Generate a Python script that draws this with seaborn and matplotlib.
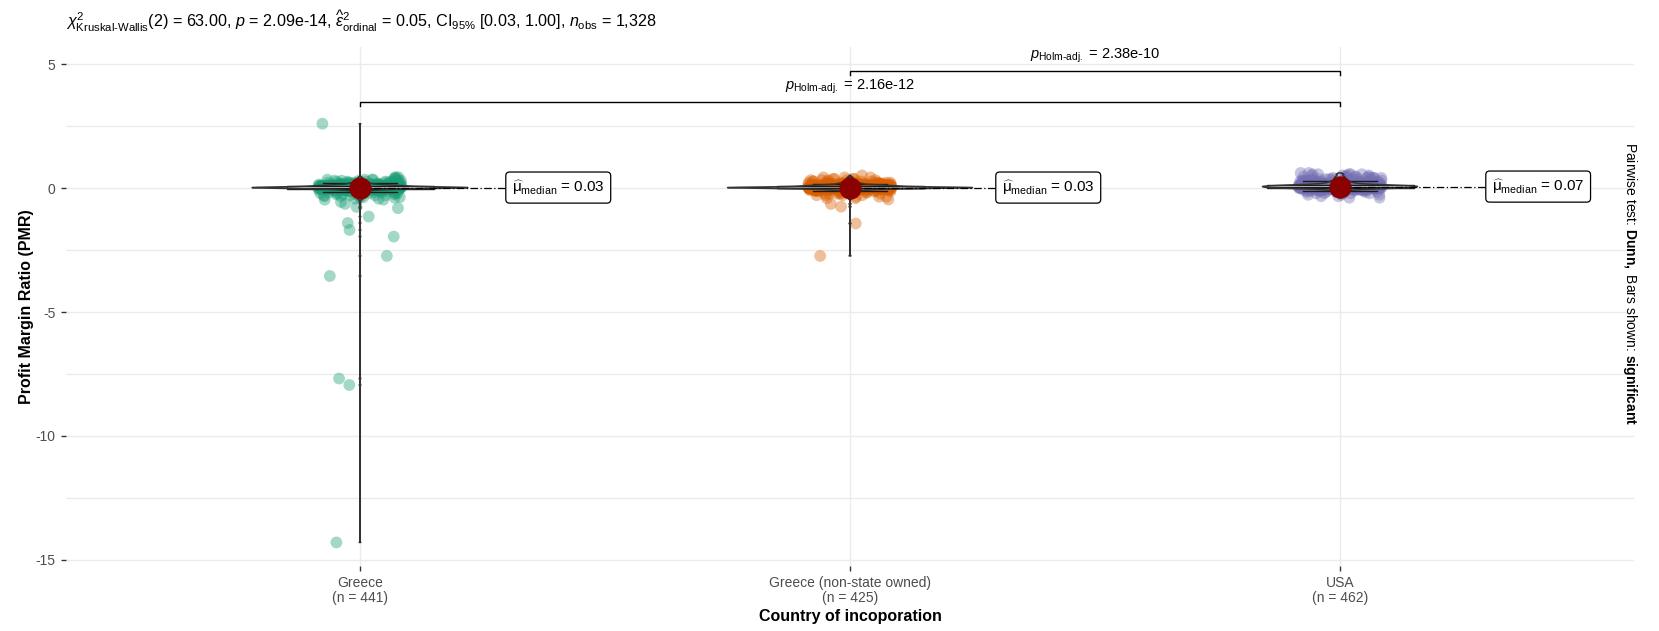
import numpy as np
import pandas as pd
import matplotlib
matplotlib.use("Agg")
import matplotlib.pyplot as plt
import seaborn as sns
from matplotlib.ticker import MultipleLocator

# ---------------- data ----------------
categories = ["Greece", "Greece (non-state owned)", "USA"]
palette = ["#1B9E77", "#D95F02", "#7570B3"]

# Profit Margin Ratio: dense core stored as value/count pairs, plus individual extreme firms
greece_core_vals = [-0.46, -0.42, -0.36, -0.32, -0.28, -0.24, -0.20, -0.16, -0.12, -0.08, -0.05,
                    -0.02, 0.00, 0.02, 0.03, 0.04, 0.06, 0.09, 0.12, 0.15, 0.19, 0.23, 0.27,
                    0.31, 0.35, 0.40, 0.45]
greece_core_counts = [2, 2, 3, 3, 4, 4, 5, 6, 8, 12, 18,
                      30, 40, 43, 40, 40, 40, 40, 28, 18, 12, 8, 6,
                      5, 4, 3, 2]
greece_extremes = [2.61, -0.38, -0.55, -0.63, -0.75, -0.80, -1.14, -1.40, -1.68, -1.95,
                   -2.73, -3.54, -7.68, -7.94, -14.30]

nonstate_core_vals = [-0.40, -0.34, -0.28, -0.22, -0.17, -0.12, -0.08, -0.05, -0.02, 0.00,
                      0.02, 0.03, 0.04, 0.06, 0.09, 0.12, 0.15, 0.19, 0.23, 0.28, 0.33,
                      0.38, 0.44]
nonstate_core_counts = [2, 3, 4, 5, 6, 8, 12, 18, 30, 42,
                        45, 40, 40, 40, 38, 28, 18, 12, 9, 7, 5,
                        4, 3]
nonstate_extremes = [0.52, -0.45, -0.63, -0.74, -1.42, -2.73]

usa_core_vals = [-0.38, -0.32, -0.26, -0.20, -0.15, -0.10, -0.06, -0.03, 0.00, 0.02, 0.04,
                 0.07, 0.10, 0.13, 0.16, 0.20, 0.24, 0.28, 0.32, 0.37, 0.42, 0.47, 0.52,
                 0.57, 0.62]
usa_core_counts = [2, 2, 3, 5, 7, 8, 14, 24, 33, 37, 50,
                   66, 58, 41, 30, 18, 13, 10, 9, 8, 7, 6, 4,
                   5, 2]
usa_extremes = []

# test results
kw_chi2 = "63.00"
kw_df = 2
kw_p = "2.09e-14"
eps2 = "0.05"
eps2_ci = ("0.03", "1.00")
pairwise_pairs = [("Greece", "USA"), ("Greece (non-state owned)", "USA")]
pairwise_p = ["2.16e-12", "2.38e-10"]

# ---------------- assemble ----------------
def expand(vals, counts, extremes):
    return np.concatenate([np.repeat(vals, counts), np.asarray(extremes, dtype=float)])

groups = {
    "Greece": expand(greece_core_vals, greece_core_counts, greece_extremes),
    "Greece (non-state owned)": expand(nonstate_core_vals, nonstate_core_counts, nonstate_extremes),
    "USA": expand(usa_core_vals, usa_core_counts, usa_extremes),
}
df = pd.concat([pd.DataFrame({"country": k, "pmr": v}) for k, v in groups.items()], ignore_index=True)
counts = [len(groups[c]) for c in categories]
medians = [float(np.median(groups[c])) for c in categories]
n_total = sum(counts)

# ---------------- style ----------------
plt.rcParams["font.family"] = ["Liberation Sans", "DejaVu Sans"]
plt.rcParams["mathtext.fontset"] = "custom"
plt.rcParams["mathtext.rm"] = "Liberation Sans"
plt.rcParams["mathtext.it"] = "Liberation Sans:italic"
plt.rcParams["mathtext.bf"] = "Liberation Sans:bold"
plt.rcParams["axes.unicode_minus"] = False

HYPHEN = "\u2010"
MU = "\u03bc"
grey_txt = "#4D4D4D"
grid_col = "#EBEBEB"

fig = plt.figure(figsize=(16.59, 6.31), dpi=100)
ax = fig.add_axes([66 / 1659, 65 / 631, 1568 / 1659, 518.6 / 631])
ax.set_facecolor("white")


def nrd0(kde):
    """Silverman's rule of thumb (R's bw.nrd0) expressed as a scipy bandwidth factor."""
    x = kde.dataset[0]
    sd = np.std(x, ddof=1)
    q75, q25 = np.percentile(x, [75, 25])
    lo = min(sd, (q75 - q25) / 1.34)
    if lo <= 0:
        lo = sd
    bw = 0.9 * lo * len(x) ** (-0.2)
    return bw / sd


np.random.seed(7)
sns.stripplot(data=df, x="country", y="pmr", order=categories, hue="country",
              hue_order=categories, palette=palette, jitter=0.085, size=8.5,
              alpha=0.4, linewidth=0, legend=False, ax=ax)
for c in ax.collections:
    c.set_zorder(2)

n_lines, n_patches = len(ax.lines), len(ax.patches)
sns.boxplot(data=df, x="country", y="pmr", order=categories, width=0.3,
            showfliers=False, color="white", linecolor="#1A1A1A", linewidth=1.0, ax=ax)
for a in ax.lines[n_lines:] + ax.patches[n_patches:]:
    a.set_zorder(3)

n_coll2 = len(ax.collections)
n_lines2 = len(ax.lines)
sns.violinplot(data=df, x="country", y="pmr", order=categories, width=0.5,
               density_norm="area", cut=0, inner=None, fill=False, color="#333333",
               linewidth=1.1, bw_method=nrd0, gridsize=4000, ax=ax)
for c in ax.collections[n_coll2:]:
    c.set_zorder(4)
for a in ax.lines[n_lines2:]:
    a.set_zorder(4)

# median labels with dash-dot leader lines
label_offset = 0.31
for i, (c, m) in enumerate(zip(categories, medians)):
    ax.plot([i, i + label_offset], [m, m], color="black", lw=0.9,
            linestyle=(0, (6, 2, 1, 2)), zorder=5)
    ax.text(i + label_offset, m,
            r"$\widehat{\mathrm{" + MU + r"}}_{\mathrm{median}}$" + f" = {m:.2f}",
            ha="left", va="center", fontsize=11, color="black", zorder=7,
            bbox=dict(boxstyle="round,pad=0.4,rounding_size=0.25", fc="white",
                      ec="black", lw=0.9))

n_lines3 = len(ax.lines)
n_coll3 = len(ax.collections)
sns.pointplot(x=categories, y=medians, order=categories, color="#8B0000",
              markersize=14, linestyle="none", errorbar=None, ax=ax)
for c in ax.collections[n_coll3:]:
    c.set_zorder(6)
for l in ax.lines[n_lines3:]:
    l.set_zorder(6)

# pairwise comparison brackets
bracket_levels = [3.5, 4.74]
tick_len = 0.17
for (g1, g2), p, yb in zip(pairwise_pairs, pairwise_p, bracket_levels):
    x1, x2 = categories.index(g1), categories.index(g2)
    ax.plot([x1, x1, x2, x2], [yb - tick_len, yb, yb, yb - tick_len],
            color="black", lw=1.0, zorder=5, solid_joinstyle="miter")
    ax.text((x1 + x2) / 2, yb + 0.6,
            r"$\mathit{p}_{\mathrm{Holm" + HYPHEN + r"adj.}}$" + f" = {p}",
            ha="center", va="center", fontsize=10.5, color="black")

# ---------------- axes ----------------
ax.set_xlim(-0.6, 2.6)
ax.set_ylim(-15.25, 5.69)
ax.yaxis.set_major_locator(MultipleLocator(5))
ax.yaxis.set_minor_locator(MultipleLocator(2.5))
ax.grid(True, which="major", color=grid_col, lw=1.0, zorder=0)
ax.grid(True, which="minor", axis="y", color=grid_col, lw=1.0, zorder=0)
ax.set_axisbelow(True)
for s in ax.spines.values():
    s.set_visible(False)
ax.tick_params(axis="both", which="major", length=3.5, width=1.0, color="#333333",
               labelcolor=grey_txt, labelsize=10, pad=4)
ax.tick_params(axis="y", which="minor", length=0)
ax.set_xticks(range(len(categories)))
ax.set_xticklabels([f"{c}\n(n = {n})" for c, n in zip(categories, counts)],
                   linespacing=1.05)
ax.set_xlabel("Country of incoporation", fontsize=11.5, fontweight="bold",
              color="black", labelpad=3)
ax.set_ylabel("Profit Margin Ratio (PMR)", fontsize=11.5, fontweight="bold",
              color="black", labelpad=1)

# ---------------- annotations ----------------
subtitle = (r"$\chi^{2}_{\mathrm{Kruskal" + HYPHEN + r"Wallis}}$" + f"({kw_df}) = {kw_chi2}, "
            + r"$\mathit{p}$" + f" = {kw_p}, "
            + r"$\widehat{\epsilon}^{2}_{\mathrm{ordinal}}$" + f" = {eps2}, "
            + r"CI$_{95\%}$" + f" [{eps2_ci[0]}, {eps2_ci[1]}], "
            + r"$\mathit{n}_{\mathrm{obs}}$" + f" = {n_total:,}")
fig.text(66 / 1659, 1 - 21 / 631, subtitle, ha="left", va="center", fontsize=11.6)

fig.text(1630 / 1659, 1 - 284 / 631,
         r"Pairwise test: $\mathbf{Dunn,}$ Bars shown: $\mathbf{significant}$",
         rotation=270, ha="center", va="center", fontsize=10)

fig.savefig("out.png", dpi=100, facecolor="white")
